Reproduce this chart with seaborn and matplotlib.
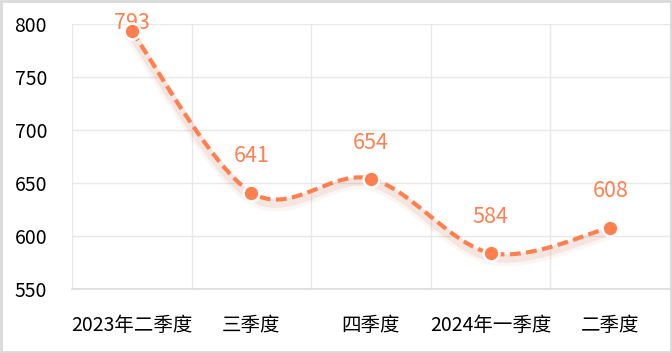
import numpy as np
import matplotlib
matplotlib.use("Agg")
import matplotlib.pyplot as plt
import matplotlib.transforms as mtransforms
from matplotlib.patches import Rectangle
import seaborn as sns

# 数据
quarters = ["2023年二季度", "三季度", "四季度", "2024年一季度", "二季度"]
values = [793, 641, 654, 584, 608]
y_ticks = [550, 600, 650, 700, 750, 800]

ORANGE = "#ff7f4f"

sns.set_theme(style="white")
plt.rcParams["font.family"] = ["Noto Sans CJK SC", "DejaVu Sans"]


def catmull_rom(xs, ys, n=40):
    # 平滑曲线 (仅用于绘制)
    px = np.r_[xs[0], xs, xs[-1]]
    py = np.r_[ys[0], ys, ys[-1]]
    out_x, out_y = [], []
    for i in range(1, len(px) - 2):
        t = np.linspace(0, 1, n, endpoint=False)
        p0x, p1x, p2x, p3x = px[i - 1:i + 3]
        p0y, p1y, p2y, p3y = py[i - 1:i + 3]
        c1x, c1y = p1x + (p2x - p0x) / 6, p1y + (p2y - p0y) / 6
        c2x, c2y = p2x - (p3x - p1x) / 6, p2y - (p3y - p1y) / 6
        b = lambda a, b_, c, d: ((1 - t) ** 3 * a + 3 * (1 - t) ** 2 * t * b_
                                 + 3 * (1 - t) * t ** 2 * c + t ** 3 * d)
        out_x.extend(b(p1x, c1x, c2x, p2x))
        out_y.extend(b(p1y, c1y, c2y, p2y))
    out_x.append(xs[-1])
    out_y.append(ys[-1])
    return np.array(out_x), np.array(out_y)


fig = plt.figure(figsize=(6.72, 3.53), dpi=100)
ax = fig.add_axes([72 / 672, 1 - 289 / 353, 598 / 672, 265 / 353])

x = np.arange(len(quarters), dtype=float)
sx, sy = catmull_rom(x, np.array(values, dtype=float))

# 阴影
for off, lw, a in [(-4, 9, 0.06), (-3, 6, 0.10)]:
    tr = mtransforms.offset_copy(ax.transData, fig=fig, x=0, y=off, units="points")
    ax.plot(sx, sy, color="#c0603a", lw=lw, alpha=a, transform=tr,
            solid_capstyle="round", zorder=2)

ax.plot(sx, sy, color=ORANGE, lw=3, dashes=(2.6, 1.3), zorder=3)
sns.scatterplot(x=x, y=values, ax=ax, s=130, color=ORANGE,
                edgecolor="white", linewidth=1.8, zorder=4, clip_on=False)

for xi, v in zip(x, values):
    ax.annotate(str(v), (xi, v), xytext=(0, 26), textcoords="offset points",
                ha="center", va="center", color=ORANGE, fontsize=15.5,
                annotation_clip=False, clip_on=False)
# 793 的标签被顶部压住
ax.texts[0].set_position((0, 6))

ax.set_xlim(-0.5, len(quarters) - 0.5)
ax.set_ylim(550, 800)
ax.set_yticks(y_ticks)
ax.set_xticks(x)
ax.set_xticklabels(quarters)
ax.set_xticks(np.arange(-0.5, len(quarters)), minor=True)
ax.tick_params(axis="y", length=0, pad=18, labelsize=14, labelcolor="black")
ax.tick_params(axis="x", which="both", length=0, pad=19, labelsize=14,
               labelcolor="black")
ax.grid(True, axis="y", which="major", color="#e8e8e8", lw=1)
ax.grid(True, axis="x", which="minor", color="#e8e8e8", lw=1)
ax.grid(False, axis="x", which="major")
for side in ["top", "right", "left"]:
    ax.spines[side].set_visible(False)
ax.spines["bottom"].set_color("#dddddd")
ax.spines["bottom"].set_linewidth(1.2)

fig.patches.append(Rectangle((0.002, 0.003), 0.996, 0.994, transform=fig.transFigure,
                             fill=False, edgecolor="#d9d9d9", lw=2))

fig.savefig("out.png", dpi=100)
